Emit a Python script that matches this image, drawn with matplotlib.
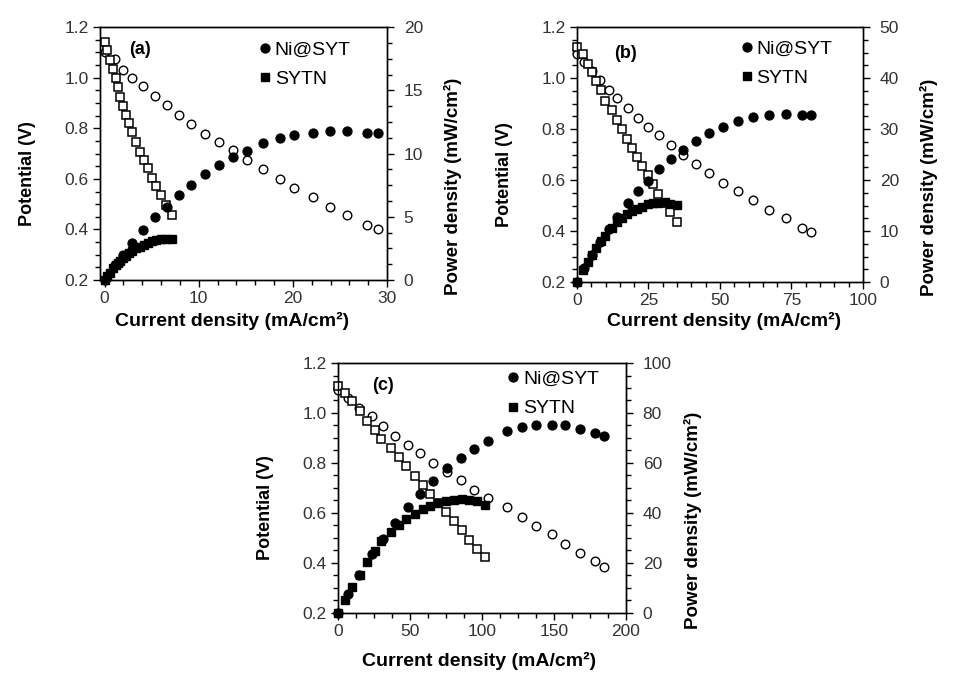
import matplotlib
matplotlib.use("Agg")
import matplotlib.pyplot as plt
from matplotlib.lines import Line2D
from matplotlib.ticker import MultipleLocator

plt.rcParams['font.family'] = ['Liberation Sans', 'DejaVu Sans']

# ---- panel (a) ----
a_ni_i = [0, 1.07, 1.95, 2.95, 4.08, 5.33, 6.64, 7.92, 9.2, 10.65, 12.18, 13.67, 15.16, 16.86, 18.64, 20.13, 22.12, 23.9, 25.8, 27.87, 29.04]
a_ni_v = [1.10, 1.074, 1.032, 1.0, 0.966, 0.926, 0.891, 0.851, 0.816, 0.779, 0.746, 0.713, 0.674, 0.637, 0.600, 0.564, 0.529, 0.489, 0.457, 0.417, 0.400]
a_ni_p = [0, 1.15, 2.0, 2.95, 3.95, 4.95, 5.8, 6.7, 7.5, 8.35, 9.1, 9.7, 10.2, 10.8, 11.2, 11.45, 11.65, 11.75, 11.75, 11.65, 11.6]
a_sy_i = [0, 0.25, 0.53, 0.89, 1.17, 1.42, 1.67, 1.95, 2.24, 2.59, 2.95, 3.37, 3.73, 4.15, 4.61, 5.08, 5.5, 6.03, 6.57, 7.17]
a_sy_v = [1.141, 1.111, 1.071, 1.036, 1.0, 0.963, 0.924, 0.887, 0.854, 0.821, 0.786, 0.746, 0.707, 0.674, 0.641, 0.605, 0.571, 0.536, 0.496, 0.457]
a_sy_p = [0, 0.28, 0.57, 0.92, 1.17, 1.37, 1.54, 1.73, 1.91, 2.13, 2.32, 2.51, 2.64, 2.80, 2.95, 3.07, 3.14, 3.23, 3.26, 3.28]

# ---- panel (b) ----
b_ni_i = [0, 2.56, 5.23, 7.91, 11.05, 13.95, 17.67, 21.5, 25.0, 28.84, 32.79, 36.98, 41.63, 46.28, 51.16, 56.4, 61.6, 67.2, 73.0, 78.8, 82.0]
b_ni_v = [1.095, 1.063, 1.028, 0.991, 0.955, 0.920, 0.884, 0.844, 0.810, 0.775, 0.736, 0.697, 0.664, 0.629, 0.590, 0.557, 0.523, 0.484, 0.451, 0.412, 0.396]
b_ni_p = [0, 2.7, 5.4, 7.8, 10.5, 12.8, 15.5, 17.9, 19.9, 22.2, 24.2, 25.9, 27.6, 29.3, 30.5, 31.6, 32.3, 32.7, 33.0, 32.7, 32.7]
b_sy_i = [0, 2.1, 3.7, 5.2, 6.7, 8.4, 9.9, 12.2, 14.0, 15.7, 17.4, 19.2, 20.9, 22.7, 25.0, 26.7, 28.5, 30.8, 32.5, 34.9]
b_sy_v = [1.122, 1.093, 1.056, 1.024, 0.988, 0.952, 0.910, 0.873, 0.837, 0.801, 0.762, 0.727, 0.690, 0.654, 0.618, 0.583, 0.547, 0.510, 0.474, 0.435]
b_sy_p = [0, 2.3, 3.9, 5.3, 6.6, 8.0, 9.0, 10.6, 11.7, 12.6, 13.3, 14.0, 14.4, 14.8, 15.4, 15.6, 15.6, 15.7, 15.4, 15.2]

# ---- panel (c) ----
c_ni_i = [0, 6.95, 14.8, 23.5, 31.0, 39.4, 48.7, 57.0, 66.2, 75.8, 85.4, 94.7, 104.3, 117.5, 127.5, 137.4, 148.3, 157.6, 168.0, 178.4, 184.7]
c_ni_v = [1.09, 1.06, 1.02, 0.986, 0.949, 0.909, 0.873, 0.84, 0.80, 0.763, 0.733, 0.693, 0.66, 0.624, 0.583, 0.549, 0.515, 0.476, 0.44, 0.407, 0.384]
c_ni_p = [0, 7.4, 15.3, 23.5, 29.7, 35.8, 42.2, 47.7, 52.9, 57.9, 62.0, 65.6, 68.7, 72.7, 74.4, 75.3, 75.3, 75.3, 73.6, 72.0, 70.9]
c_sy_i = [0, 4.66, 10.0, 15.1, 20.3, 25.5, 30.2, 36.6, 42.2, 47.5, 53.3, 58.7, 63.8, 69.3, 74.9, 80.5, 85.8, 91.1, 96.2, 102.0]
c_sy_v = [1.107, 1.080, 1.046, 1.006, 0.968, 0.933, 0.896, 0.860, 0.824, 0.786, 0.749, 0.713, 0.677, 0.640, 0.602, 0.566, 0.533, 0.493, 0.456, 0.424]
c_sy_p = [0, 5.3, 10.4, 15.3, 20.2, 24.6, 28.6, 32.2, 35.3, 37.6, 39.7, 41.6, 42.9, 44.0, 44.6, 45.3, 45.6, 45.3, 44.6, 43.3]

fig = plt.figure(figsize=(9.61, 6.78), dpi=100)

TICKCOL = '#333333'


def panel(rect, tag, tagpos, legpos, xlabpos, data, xlim, xmaj, xmin, pmax, pmaj, pmin):
    ni_i, ni_v, ni_p, sy_i, sy_v, sy_p = data
    ax = fig.add_axes(rect)
    ax2 = ax.twinx()

    # voltage (open markers)
    ax.plot(ni_i, ni_v, 'o', ms=6.2, mfc='white', mec='black', mew=1.0, clip_on=False, zorder=3)
    ax.plot(sy_i, sy_v, 's', ms=5.8, mfc='white', mec='black', mew=1.1, clip_on=False, zorder=4)
    # power (filled markers)
    ax2.plot(ni_i, ni_p, 'o', ms=6.4, color='black', clip_on=False, zorder=3)
    ax2.plot(sy_i, sy_p, 's', ms=5.8, color='black', clip_on=False, zorder=4)

    ax.set_xlim(*xlim)
    ax.set_ylim(0.2, 1.2)
    ax2.set_ylim(0, pmax)
    ax.xaxis.set_major_locator(MultipleLocator(xmaj))
    ax.xaxis.set_minor_locator(MultipleLocator(xmin))
    ax.yaxis.set_major_locator(MultipleLocator(0.2))
    ax.yaxis.set_minor_locator(MultipleLocator(0.05))
    ax2.yaxis.set_major_locator(MultipleLocator(pmaj))
    ax2.yaxis.set_minor_locator(MultipleLocator(pmin))
    ax.yaxis.set_major_formatter(plt.FormatStrFormatter('%.1f'))

    for a in (ax, ax2):
        a.tick_params(which='major', direction='out', length=5, width=1.0,
                      labelsize=12.5, labelcolor=TICKCOL, pad=3)
        a.tick_params(which='minor', direction='out', length=3.5, width=1.0)
        for s in a.spines.values():
            s.set_linewidth(1.0)
    ax.tick_params(top=False, right=False, which='both')
    ax2.tick_params(axis='y', which='major', pad=7)

    ax.set_ylabel('Potential (V)', fontsize=13, fontweight='bold')
    ax2.set_ylabel('Power density (mW/cm²)', fontsize=13.5, fontweight='bold')
    ax.set_xlabel('Current density (mA/cm²)', fontsize=14, fontweight='bold')
    ax.yaxis.set_label_coords(-0.222, 0.42)
    ax2.yaxis.set_label_coords(1.2, 0.37)
    ax.xaxis.set_label_coords(xlabpos[0], xlabpos[1])

    ax.text(tagpos[0], tagpos[1], tag, transform=ax.transAxes, fontsize=13,
            fontweight='bold', ha='center', va='center')

    handles = [Line2D([], [], marker='o', color='black', ls='none', ms=6.4),
               Line2D([], [], marker='s', color='black', ls='none', ms=5.8)]
    ax2.legend(handles, ['Ni@SYT', 'SYTN'], loc='upper left', bbox_to_anchor=legpos,
               frameon=False, fontsize=14, handlelength=0.6, handletextpad=0.2,
               borderpad=0, borderaxespad=0, labelspacing=0.6)


panel([0.104, 0.587, 0.2987, 0.373], '(a)', (0.14, 0.91), (0.555, 0.945), (0.46, -0.126),
      (a_ni_i, a_ni_v, a_ni_p, a_sy_i, a_sy_v, a_sy_p),
      (-0.5, 30), 10, 2, 20, 5, 1.25)
panel([0.6004, 0.584, 0.2976, 0.376], '(b)', (0.168, 0.898), (0.573, 0.95), (0.514, -0.118),
      (b_ni_i, b_ni_v, b_ni_p, b_sy_i, b_sy_v, b_sy_p),
      (0, 100), 25, 5, 50, 10, 2.5)
panel([0.3517, 0.0959, 0.2997, 0.3687], '(c)', (0.157, 0.908), (0.589, 0.97), (0.49, -0.155),
      (c_ni_i, c_ni_v, c_ni_p, c_sy_i, c_sy_v, c_sy_p),
      (0, 200), 50, 12.5, 100, 20, 5)

fig.savefig('out.png', dpi=100)
